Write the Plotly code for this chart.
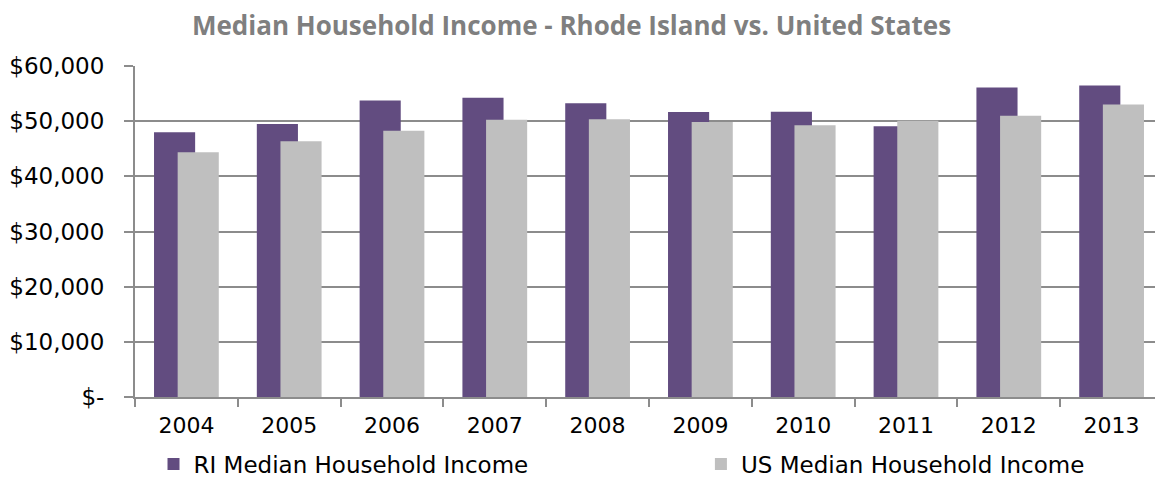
import plotly.graph_objects as go

years = ["2004", "2005", "2006", "2007", "2008", "2009", "2010", "2011", "2012", "2013"]
ri_income = [47970, 49480, 53760, 54250, 53270, 51650, 51720, 49060, 56110, 56470]
us_income = [44360, 46350, 48280, 50270, 50330, 49840, 49240, 50090, 51000, 53040]
y_ticks = [0, 10000, 20000, 30000, 40000, 50000, 60000]
y_tick_labels = ["$-", "$10,000", "$20,000", "$30,000", "$40,000", "$50,000", "$60,000"]

fig = go.Figure()
fig.add_trace(go.Bar(
    x=years, y=ri_income, name="RI Median Household Income",
    marker=dict(color="#624C80", line=dict(width=0)),
    width=0.4, offset=-0.315, legend="legend",
))
fig.add_trace(go.Bar(
    x=years, y=us_income, name="US Median Household Income",
    marker=dict(color="#BFBFBF", line=dict(width=0)),
    width=0.4, offset=-0.085, legend="legend2",
))

legend_font = dict(family="DejaVu Sans", size=23, color="#000000")

fig.update_layout(
    width=1155, height=469,
    margin=dict(l=127, r=0, t=58, b=80, autoexpand=False),
    paper_bgcolor="white", plot_bgcolor="white",
    barmode="overlay",
    title=dict(text="<b>Median Household Income - Rhode Island vs. United States</b>",
               x=0.4879, xanchor="center", y=0.962, yanchor="middle",
               font=dict(family="Open Sans", size=26, color="#7F7F7F")),
    font=dict(family="DejaVu Sans", size=22, color="#000000"),
    showlegend=True,
    legend=dict(orientation="h", x=0.018, xanchor="left", y=-0.2024, yanchor="middle",
                font=legend_font, bgcolor="rgba(0,0,0,0)"),
    legend2=dict(orientation="h", x=0.5505, xanchor="left", y=-0.2024, yanchor="middle",
                 font=legend_font, bgcolor="rgba(0,0,0,0)"),
    xaxis=dict(type="category", showline=True, linecolor="#8C8C8C", linewidth=2,
               ticks="outside", tickson="boundaries", ticklen=8, tickcolor="#8C8C8C",
               tickwidth=2, showgrid=False, range=[-0.5, 9.5], ticklabelstandoff=8,
               tickfont=dict(family="DejaVu Sans", size=22)),
    yaxis=dict(range=[0, 60000], tickvals=y_ticks, ticktext=y_tick_labels,
               showgrid=True, gridcolor="#8C8C8C", gridwidth=2,
               showline=True, linecolor="#8C8C8C", linewidth=2,
               ticks="outside", ticklen=9, tickcolor="#8C8C8C", tickwidth=2,
               ticklabelstandoff=15,
               zeroline=False, tickfont=dict(family="DejaVu Sans", size=23)),
)

fig.write_html("out.html")
